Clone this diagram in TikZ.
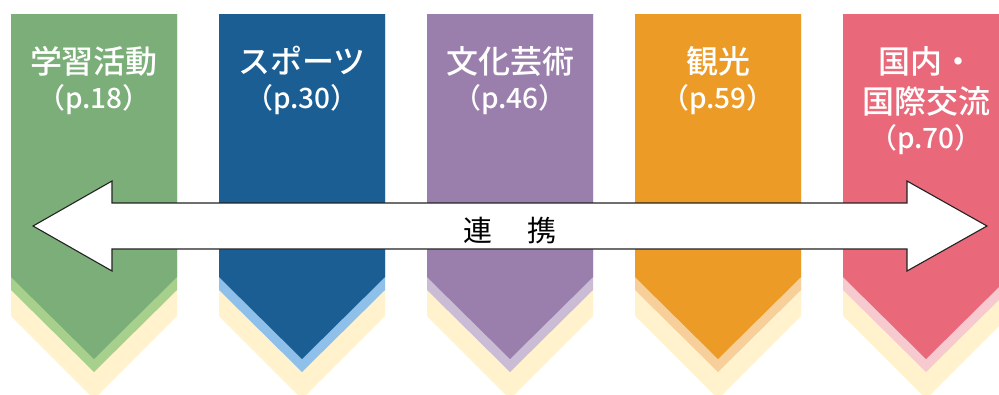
\documentclass[tikz,border=0pt]{standalone}
\usepackage{fontspec}
\newfontfamily\jp{Noto Sans CJK JP}
\newfontfamily\jpm{Noto Sans CJK JP Medium}
\definecolor{yel}{HTML}{FFF2CC}
\definecolor{gmain}{HTML}{7BAE78}
\definecolor{glight}{HTML}{A8D08D}
\definecolor{bmain}{HTML}{1B5E94}
\definecolor{blight}{HTML}{8EC0EA}
\definecolor{pmain}{HTML}{9A7FAC}
\definecolor{plight}{HTML}{CBBCD6}
\definecolor{omain}{HTML}{EC9B26}
\definecolor{olight}{HTML}{F7CF9A}
\definecolor{rmain}{HTML}{E9687A}
\definecolor{rlight}{HTML}{F7CAD0}
\definecolor{edge}{HTML}{222222}
\begin{document}
\begin{tikzpicture}[x=1pt,y=-1pt,
  title/.style={text=white,font=\jpm\fontsize{32}{38}\selectfont,anchor=base,inner sep=0pt},
  pageno/.style={text=white,font=\jpm\fontsize{28}{32}\selectfont,anchor=base,inner sep=0pt},
  linktext/.style={text=black,font=\jp\fontsize{29}{34}\selectfont,anchor=base,inner sep=0pt},
  arrowbody/.style={draw=edge,fill=white,line width=1.1pt,line join=miter}]
\useasboundingbox (0,0) rectangle (999,394);
\clip (0,0) rectangle (999,394);
\foreach \L/\m/\l in {11/gmain/glight,219/bmain/blight,427/pmain/plight,635/omain/olight,843/rmain/rlight}{
  \pgfmathsetmacro\R{\L+166}
  \pgfmathsetmacro\C{\L+83}
  \fill[yel] (\L,14) -- (\R,14) -- (\R,316) -- (\C,399) -- (\L,316) -- cycle;
  \fill[\l] (\L,14) -- (\R,14) -- (\R,290) -- (\C,372) -- (\L,290) -- cycle;
  \fill[\m] (\L,14) -- (\R,14) -- (\R,277) -- (\C,359) -- (\L,277) -- cycle;
}
\draw[arrowbody] (33,226) -- (112,181) -- (112,203) -- (907,203) -- (907,181) -- (987,226)
  -- (907,271) -- (907,249) -- (112,249) -- (112,271) -- cycle;
\node[linktext] (link) at (510,241) {連\hspace{36pt}携};
\node[title] (t1) at (94,73) {学習活動};
\node[pageno] (p1) at (94,108) {（p.18）};
\node[title] (t2) at (302,73) {スポーツ};
\node[pageno] (p2) at (302,108) {（p.30）};
\node[title] (t3) at (510,73) {文化芸術};
\node[pageno] (p3) at (510,108) {（p.46）};
\node[title] (t4) at (718,73) {観光};
\node[pageno] (p4) at (718,108) {（p.59）};
\node[title] (t5a) at (926,73) {国内・};
\node[title] (t5b) at (926,113) {国際交流};
\node[pageno] (p5) at (926,148) {（p.70）};
\end{tikzpicture}
\end{document}
